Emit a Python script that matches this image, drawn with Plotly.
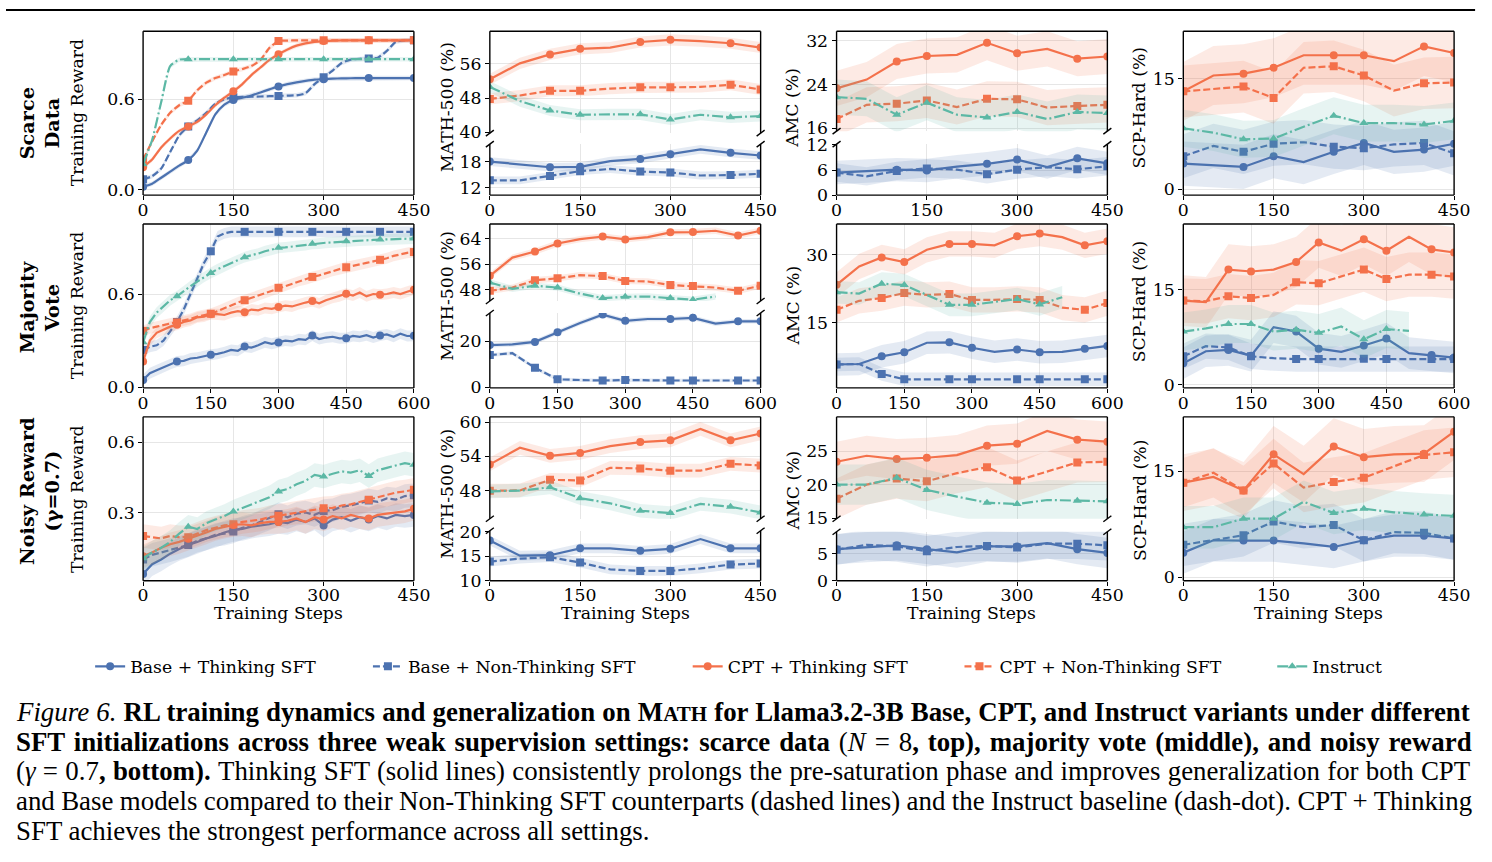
import plotly.graph_objects as go

# figure size and the measured mapping from the screenshot back to figure pixels
FW, FH = 1492, 862
OX, OY, SX, SY = 5.8, 8.7, 0.986, 0.979
FS = 1.016  # font compensation for the screenshot scale
FONT = "DejaVu Serif"
CAP_FONT = "Liberation Serif"


def PX(X):
    return ((X - OX) / SX) / FW


def PY(Y):
    return 1 - ((Y - OY) / SY) / FH


SERIES = ["Base + Thinking SFT", "Base + Non-Thinking SFT", "CPT + Thinking SFT",
          "CPT + Non-Thinking SFT", "Instruct"]
BLUE, ORANGE, TEAL = "#4c72b0", "#f4714b", "#5cb8a5"
COLORS = [BLUE, BLUE, ORANGE, ORANGE, TEAL]
FILLS = ["rgba(76,114,176,0.15)", "rgba(76,114,176,0.15)", "rgba(244,113,75,0.15)",
         "rgba(244,113,75,0.15)", "rgba(92,184,165,0.15)"]
DASHES = ["solid", "7px,3px", "solid", "7px,3px", "11px,3px,2px,3px"]
SYMBOLS = ["circle", "square", "circle", "square", "triangle-up"]

# ---------------- steps ----------------
TR_X_450 = list(range(0, 451, 15))
TR_X_600 = list(range(0, 601, 15))
EV_X_450 = [0, 50, 100, 150, 200, 250, 300, 350, 400, 450]
EV_X_600 = [0, 50, 100, 150, 200, 250, 300, 350, 400, 450, 500, 550, 600]
EV_MARKED = [0, 100, 150, 250, 300, 400, 450, 550, 600]
TR_MARKED = [0, 75, 150, 225, 300, 375, 450, 525, 600]

# ---------------- training reward: scarce data ----------------
r1_tr_bt = [0.02, 0.04, 0.08, 0.12, 0.16, 0.197, 0.26, 0.38, 0.50, 0.565,
            0.595, 0.61, 0.625, 0.645, 0.665, 0.685, 0.70, 0.712, 0.722, 0.73,
            0.733, 0.736, 0.738, 0.739, 0.74, 0.74, 0.74, 0.74, 0.74, 0.74, 0.74]
r1_tr_bnt = [0.07, 0.09, 0.14, 0.25, 0.36, 0.42, 0.46, 0.51, 0.57, 0.60,
             0.613, 0.615, 0.617, 0.618, 0.62, 0.622, 0.624, 0.626, 0.64, 0.70,
             0.745, 0.79, 0.84, 0.862, 0.868, 0.87, 0.875, 0.92, 0.98, 0.99, 0.99]
r1_tr_ct = [0.15, 0.2, 0.28, 0.34, 0.39, 0.42, 0.45, 0.50, 0.56, 0.61,
            0.652, 0.70, 0.76, 0.81, 0.86, 0.898, 0.93, 0.955, 0.97, 0.98,
            0.985, 0.988, 0.99, 0.99, 0.99, 0.99, 0.99, 0.99, 0.99, 0.99, 0.99]
r1_tr_cnt = [0.2, 0.32, 0.43, 0.51, 0.56, 0.59, 0.66, 0.71, 0.74, 0.76,
             0.784, 0.80, 0.82, 0.86, 0.94, 0.985, 0.988, 0.99, 0.99, 0.99,
             0.99, 0.99, 0.99, 0.99, 0.99, 0.99, 0.99, 0.99, 0.99, 0.99, 0.99]
r1_tr_in = [0.17, 0.33, 0.58, 0.82, 0.862, 0.865, 0.865, 0.865, 0.865, 0.865,
            0.865, 0.865, 0.865, 0.865, 0.865, 0.865, 0.865, 0.865, 0.865, 0.865,
            0.865, 0.865, 0.865, 0.865, 0.865, 0.865, 0.865, 0.865, 0.865, 0.865, 0.865]

# ---------------- training reward: majority vote ----------------
r2_tr_bt = [0.047, 0.09, 0.11, 0.13, 0.15, 0.166, 0.17, 0.185, 0.19, 0.2,
            0.209, 0.215, 0.225, 0.24, 0.235, 0.262, 0.255, 0.27, 0.29, 0.28,
            0.288, 0.3, 0.295, 0.31, 0.305, 0.333, 0.31, 0.32, 0.325, 0.315,
            0.316, 0.33, 0.325, 0.335, 0.32, 0.333, 0.34, 0.325, 0.345, 0.33, 0.331]
r2_tr_bnt = [0.24, 0.26, 0.27, 0.3, 0.36, 0.42, 0.5, 0.6, 0.7, 0.8,
             0.875, 0.97, 0.99, 1.0, 1.0, 1.0, 1.0, 1.0, 1.0, 1.0,
             1.0, 1.0, 1.0, 1.0, 1.0, 1.0, 1.0, 1.0, 1.0, 1.0,
             1.0, 1.0, 1.0, 1.0, 1.0, 1.0, 1.0, 1.0, 1.0, 1.0, 1.0]
r2_tr_ct = [0.166, 0.3, 0.35, 0.37, 0.39, 0.402, 0.42, 0.43, 0.45, 0.455,
            0.471, 0.47, 0.465, 0.48, 0.49, 0.482, 0.5, 0.495, 0.51, 0.505,
            0.516, 0.525, 0.52, 0.535, 0.545, 0.555, 0.54, 0.56, 0.575, 0.585,
            0.602, 0.59, 0.61, 0.585, 0.6, 0.596, 0.6, 0.61, 0.6, 0.615, 0.628]
r2_tr_cnt = [0.363, 0.38, 0.39, 0.4, 0.41, 0.417, 0.43, 0.44, 0.455, 0.465,
             0.473, 0.49, 0.51, 0.53, 0.545, 0.56, 0.575, 0.59, 0.605, 0.625,
             0.64, 0.655, 0.67, 0.685, 0.695, 0.71, 0.72, 0.735, 0.75, 0.76,
             0.772, 0.78, 0.79, 0.8, 0.81, 0.82, 0.83, 0.845, 0.855, 0.865, 0.87]
r2_tr_in = [0.29, 0.42, 0.48, 0.52, 0.56, 0.585, 0.62, 0.65, 0.68, 0.71,
            0.735, 0.76, 0.78, 0.8, 0.82, 0.837, 0.85, 0.86, 0.875, 0.885,
            0.897, 0.9, 0.905, 0.91, 0.915, 0.923, 0.925, 0.93, 0.932, 0.935,
            0.94, 0.942, 0.944, 0.946, 0.948, 0.95, 0.952, 0.953, 0.955, 0.956, 0.957]

# ---------------- training reward: noisy reward ----------------
r3_tr_bt = [0.038, 0.08, 0.1, 0.125, 0.145, 0.162, 0.175, 0.19, 0.2, 0.215,
            0.226, 0.23, 0.24, 0.245, 0.25, 0.26, 0.255, 0.27, 0.26, 0.275,
            0.245, 0.27, 0.28, 0.265, 0.28, 0.27, 0.285, 0.275, 0.29, 0.285, 0.29]
r3_tr_bnt = [0.1, 0.12, 0.13, 0.14, 0.15, 0.162, 0.18, 0.19, 0.205, 0.21,
             0.219, 0.235, 0.245, 0.26, 0.275, 0.293, 0.28, 0.295, 0.3, 0.29,
             0.307, 0.31, 0.325, 0.33, 0.34, 0.351, 0.345, 0.36, 0.355, 0.37, 0.373]
r3_tr_ct = [0.114, 0.13, 0.15, 0.165, 0.175, 0.188, 0.2, 0.215, 0.23, 0.24,
            0.247, 0.25, 0.245, 0.255, 0.26, 0.26, 0.265, 0.275, 0.26, 0.28,
            0.27, 0.285, 0.275, 0.29, 0.28, 0.275, 0.29, 0.295, 0.3, 0.305, 0.316]
r3_tr_cnt = [0.2, 0.195, 0.19, 0.2, 0.195, 0.195, 0.21, 0.225, 0.235, 0.245,
             0.25, 0.26, 0.265, 0.27, 0.28, 0.286, 0.295, 0.3, 0.305, 0.31,
             0.318, 0.32, 0.33, 0.335, 0.345, 0.354, 0.365, 0.375, 0.385, 0.39, 0.397]
r3_tr_in = [0.105, 0.13, 0.15, 0.175, 0.21, 0.24, 0.23, 0.255, 0.27, 0.285,
            0.304, 0.32, 0.335, 0.35, 0.365, 0.39, 0.4, 0.42, 0.435, 0.46,
            0.453, 0.465, 0.475, 0.47, 0.48, 0.455, 0.48, 0.49, 0.5, 0.51, 0.503]
TR_BAND = [0.015, 0.035, 0.05]

# ---------------- eval: scarce data ----------------
r1_math = [[18.0, 17.3, 16.7, 16.8, 18.1, 18.6, 19.7, 20.8, 20.0, 19.4],
           [13.7, 13.7, 14.7, 15.8, 16.3, 15.7, 15.5, 14.8, 14.9, 15.2],
           [52.4, 56.1, 58.2, 59.5, 59.8, 61.1, 61.6, 61.3, 60.8, 59.8],
           [47.8, 48.6, 49.7, 49.7, 50.2, 50.5, 50.5, 50.6, 51.1, 50.0],
           [50.6, 47.3, 45.1, 44.1, 44.2, 44.2, 43.0, 44.1, 43.5, 43.8]]
r1_amc = [[5.4, 5.7, 6.1, 5.9, 6.8, 7.5, 8.5, 6.7, 8.8, 7.6],
          [5.4, 4.5, 5.8, 6.4, 6.1, 5.0, 6.1, 6.7, 6.2, 6.9],
          [23.3, 24.9, 28.2, 29.2, 29.4, 31.6, 29.7, 30.5, 28.7, 29.1],
          [17.7, 20.3, 20.5, 21.1, 19.9, 21.4, 21.3, 19.8, 20.1, 20.3],
          [21.7, 21.4, 18.5, 20.7, 18.5, 18.0, 19.0, 17.7, 19.0, 18.8]]
r1_scp = [[3.5, 3.3, 3.05, 4.5, 3.7, 5.1, 6.3, 5.1, 5.4, 6.2],
          [4.5, 5.9, 5.1, 6.2, 6.4, 5.8, 5.6, 6.1, 6.3, 4.9],
          [13.3, 15.45, 15.7, 16.5, 18.2, 18.2, 18.2, 17.4, 19.4, 18.5],
          [13.3, 13.6, 13.95, 12.4, 16.5, 16.7, 15.45, 13.4, 14.4, 14.5],
          [8.3, 7.7, 6.8, 6.9, 8.5, 10.0, 9.0, 9.0, 8.8, 9.3]]

# ---------------- eval: majority vote ----------------
r2_math = [[18.3, 18.6, 19.7, 23.9, 27.9, 31.5, 28.8, 29.6, 29.6, 30.1, 27.6, 28.6, 28.6],
           [14.0, 14.8, 8.5, 3.5, 3.2, 3.0, 3.2, 3.0, 3.0, 3.0, 3.0, 3.0, 3.0],
           [52.4, 58.1, 60.0, 62.5, 63.9, 64.7, 63.8, 64.5, 66.0, 66.1, 66.5, 65.0, 66.5],
           [47.7, 48.7, 51.0, 51.6, 52.6, 52.3, 50.8, 50.6, 49.5, 49.2, 48.7, 47.7, 49.3],
           [50.3, 48.3, 49.3, 48.7, 46.8, 45.4, 45.8, 45.9, 45.4, 44.9, 45.9]]
r2_amc = [[5.7, 5.8, 7.5, 8.4, 10.5, 10.6, 9.4, 8.5, 9.0, 8.4, 8.5, 9.2, 9.8],
          [5.7, 5.8, 3.6, 2.4, 2.4, 2.4, 2.4, 2.4, 2.4, 2.4, 2.4, 2.4, 2.4],
          [23.35, 27.4, 29.4, 28.4, 31.1, 32.4, 32.4, 32.1, 34.1, 34.7, 33.9, 32.1, 33.0],
          [17.8, 19.8, 20.4, 21.5, 21.1, 21.3, 20.0, 20.0, 20.2, 20.0, 18.3, 17.8, 19.3],
          [21.7, 21.4, 23.6, 23.3, 21.1, 18.9, 18.9, 19.5, 20.2, 19.0, 20.6]]
r2_scp = [[3.4, 5.3, 5.5, 4.6, 9.1, 8.4, 5.7, 5.2, 6.2, 7.3, 5.0, 4.7, 4.3],
          [4.5, 6.1, 5.9, 4.5, 4.2, 4.05, 4.05, 4.05, 4.1, 4.05, 4.05, 4.05, 4.05],
          [13.3, 13.05, 18.2, 17.9, 18.2, 19.4, 22.5, 21.2, 23.0, 21.2, 23.4, 21.4, 20.9],
          [13.3, 13.2, 14.0, 13.7, 14.2, 16.2, 16.05, 17.1, 18.2, 16.7, 17.4, 17.4, 17.1],
          [8.4, 8.9, 9.6, 9.6, 8.4, 8.7, 8.2, 9.2, 7.2, 8.8, 8.5]]

# ---------------- eval: noisy reward ----------------
r3_math = [[18.2, 15.1, 15.2, 16.6, 16.6, 16.1, 16.5, 18.5, 16.6, 16.6],
           [13.9, 14.5, 14.8, 13.7, 12.3, 12.0, 12.0, 12.5, 13.3, 13.5],
           [52.6, 55.5, 54.1, 54.6, 55.8, 56.5, 56.8, 58.8, 56.8, 58.0],
           [48.0, 48.05, 49.9, 49.8, 52.0, 51.9, 51.5, 51.5, 52.7, 52.4],
           [47.9, 48.0, 48.6, 46.7, 45.8, 44.5, 44.1, 45.7, 45.2, 44.2]]
r3_amc = [[5.8, 6.2, 6.5, 5.8, 5.2, 6.3, 6.3, 6.9, 5.8, 5.1],
          [5.7, 6.6, 6.3, 5.4, 6.2, 6.4, 6.1, 6.8, 6.8, 6.5],
          [23.4, 24.3, 23.8, 24.0, 24.4, 25.8, 26.1, 28.0, 26.7, 26.4],
          [17.9, 20.0, 20.9, 20.5, 21.7, 22.6, 20.6, 22.0, 23.3, 23.4],
          [20.0, 20.0, 21.0, 19.2, 18.2, 17.3, 17.1, 17.7, 17.6, 17.5]]
r3_scp = [[3.5, 5.25, 5.2, 5.2, 4.8, 4.3, 5.25, 5.9, 5.9, 5.5],
          [4.6, 5.25, 5.95, 7.9, 7.1, 7.4, 5.25, 6.4, 6.3, 5.5],
          [13.4, 14.2, 12.3, 17.4, 14.6, 18.5, 17.0, 17.4, 17.5, 20.6],
          [13.4, 14.8, 12.3, 16.1, 12.7, 13.5, 14.1, 15.7, 17.3, 17.7],
          [7.1, 7.1, 8.3, 8.3, 10.7, 9.1, 9.7, 9.2, 8.9, 8.7]]

# band half-widths per panel: [base-T, base-NT, cpt-T, cpt-NT, instruct]
BAND_R1 = {"math": [1.0, 0.9, 1.3, 1.3, 1.3], "amc": [2.8, 2.2, 3.2, 3.2, 3.2], "scp": [3.0, 3.0, 4.0, 3.5, 2.5]}
BAND_R2 = {"math": [1.0, 0.8, 1.0, 1.0, 1.0], "amc": [2.5, 1.5, 2.8, 2.8, 2.5], "scp": [2.5, 2.0, 4.0, 3.5, 3.0]}
BAND_R3 = {"math": [1.0, 1.0, 1.2, 1.2, 1.2], "amc": [2.8, 2.8, 3.0, 3.0, 3.0], "scp": [3.0, 3.0, 4.0, 3.5, 3.0]}

# ---------------- layout geometry (picture pixels) ----------------
COLX = [(143, 414), (490, 761), (837, 1108), (1184, 1455)]
ROWS = [
    dict(top=31, bot=195, xmax=450, xt=[0, 150, 300, 450],
         tr=[r1_tr_bt, r1_tr_bnt, r1_tr_ct, r1_tr_cnt, r1_tr_in], trx=TR_X_450, band=TR_BAND[0], spline=True,
         tr_range=[-0.035, 1.05], tr_ticks=[0.0, 0.6],
         ev=[r1_math, r1_amc, r1_scp], evx=EV_X_450, bands=BAND_R1,
         math=dict(split=(133, 144), up=[39.8, 63.6], upt=[40, 48, 56], lo=[10.3, 22.0], lot=[12, 18]),
         amc=dict(split=(131, 144), up=[15.5, 33.7], upt=[16, 24, 32], lo=[0, 12.2], lot=[0, 6, 12]),
         scp=dict(rng=[-0.77, 21.45], t=[0, 15]),
         label="Scarce<br>Data", lab_y=123, ttl_y=[113, 107, 108, 107]),
    dict(top=224, bot=388, xmax=600, xt=[0, 150, 300, 450, 600],
         tr=[r2_tr_bt, r2_tr_bnt, r2_tr_ct, r2_tr_cnt, r2_tr_in], trx=TR_X_600, band=TR_BAND[1], spline=False,
         tr_range=[-0.004, 1.05], tr_ticks=[0.0, 0.6],
         ev=[r2_math, r2_amc, r2_scp], evx=EV_X_600, bands=BAND_R2,
         math=dict(split=(301, 313), up=[44.5, 68.6], upt=[48, 56, 64], lo=[-0.2, 32.2], lot=[0, 20]),
         amc=dict(rng=[0.5, 36.8], t=[15, 30]),
         scp=dict(rng=[-0.5, 25.4], t=[0, 15]),
         label="Majority<br>Vote", lab_y=307, ttl_y=[306, 296, 306, 301]),
    dict(top=417, bot=581, xmax=450, xt=[0, 150, 300, 450],
         tr=[r3_tr_bt, r3_tr_bnt, r3_tr_ct, r3_tr_cnt, r3_tr_in], trx=TR_X_450, band=TR_BAND[2], spline=False,
         tr_range=[0.01, 0.707], tr_ticks=[0.3, 0.6],
         ev=[r3_math, r3_amc, r3_scp], evx=EV_X_450, bands=BAND_R3,
         math=dict(split=(519, 531), up=[43.1, 60.9], upt=[48, 54, 60], lo=[10, 20.2], lot=[10, 15, 20]),
         amc=dict(split=(519, 532), up=[14.9, 30.1], upt=[15, 20, 25], lo=[0, 9.0], lot=[0, 5]),
         scp=dict(rng=[-0.47, 22.7], t=[0, 15]),
         label="Noisy Reward<br>(γ=0.7)", lab_y=491, ttl_y=[500, 494, 491, 500]),
]
YTITLES = ["Training Reward", "MATH-500 (%)", "AMC (%)", "SCP-Hard (%)"]
YTITLE_X = [77, 447, 793, 1140]

fig = go.Figure()
shapes, annotations, layout_axes = [], [], {}
TICKFONT = dict(family=FONT, size=17 * FS, color="black")
FRAME = dict(color="black", width=1.4)


def fmt(v):
    return f"{v:.1f}" if isinstance(v, float) else str(v)


def add_axes(idx, x0, x1, y0, y1, xmax, xt, yr, yt, xlabels, part):
    xs = "xaxis" if idx == 1 else f"xaxis{idx}"
    ys = "yaxis" if idx == 1 else f"yaxis{idx}"
    layout_axes[xs] = dict(domain=[PX(x0), PX(x1)], range=[0, xmax], anchor=f"y{idx}",
                           tickvals=xt, showticklabels=xlabels, ticks="outside" if xlabels else "",
                           ticklen=4, tickwidth=1.2, tickcolor="black", tickfont=TICKFONT,
                           ticklabelstandoff=-5,
                           showgrid=True, gridcolor="#e6e6e6", gridwidth=1, zeroline=False,
                           showline=False, fixedrange=True)
    layout_axes[ys] = dict(domain=[PY(y1), PY(y0)], range=yr, anchor=f"x{idx}",
                           tickvals=yt, ticktext=[fmt(v) for v in yt], ticks="outside",
                           ticklen=4, tickwidth=1.2, tickcolor="black", tickfont=TICKFONT,
                           showgrid=True, gridcolor="#e6e6e6", gridwidth=1, zeroline=False,
                           showline=False, fixedrange=True)

    def seg(ax0, ay0, ax1, ay1):
        shapes.append(dict(type="line", xref="paper", yref="paper", x0=PX(ax0), x1=PX(ax1),
                           y0=PY(ay0), y1=PY(ay1), line=FRAME))
    seg(x0, y0, x0, y1)
    seg(x1, y0, x1, y1)
    if part in ("full", "upper"):
        seg(x0, y0, x1, y0)
    if part in ("full", "lower"):
        seg(x0, y1, x1, y1)
    if part == "upper":
        for bx in (x0, x1):
            seg(bx - 4, y1 + 3, bx + 4, y1 - 3)
    if part == "lower":
        for bx in (x0, x1):
            seg(bx - 4, y0 + 3, bx + 4, y0 - 3)


def add_series(idx, xs, ys, k, band, marked, spline=False):
    xa, ya = f"x{idx}", f"y{idx}"
    n = len(ys)
    xs = xs[:n]
    lo = [v - band for v in ys]
    hi = [v + band for v in ys]
    fig.add_trace(go.Scatter(x=xs + xs[::-1], y=hi + lo[::-1], xaxis=xa, yaxis=ya, fill="toself",
                             fillcolor=FILLS[k], line=dict(width=0), mode="lines",
                             hoverinfo="skip", showlegend=False))
    fig.add_trace(go.Scatter(x=xs, y=ys, xaxis=xa, yaxis=ya, mode="lines",
                             line=dict(color=COLORS[k], width=2.2, dash=DASHES[k],
                                       shape="spline" if spline else "linear", smoothing=0.6),
                             showlegend=False, name=SERIES[k]))
    mx = [x for x in xs if x in marked]
    my = [y for x, y in zip(xs, ys) if x in marked]
    fig.add_trace(go.Scatter(x=mx, y=my, xaxis=xa, yaxis=ya, mode="markers",
                             marker=dict(color=COLORS[k], size=8, symbol=SYMBOLS[k]),
                             showlegend=False, name=SERIES[k]))


idx = 0
for r, row in enumerate(ROWS):
    top, bot = row["top"], row["bot"]
    idx += 1
    x0, x1 = COLX[0]
    add_axes(idx, x0, x1, top, bot, row["xmax"], row["xt"], row["tr_range"], row["tr_ticks"], True, "full")
    for k in range(5):
        add_series(idx, row["trx"], row["tr"][k], k, row["band"], TR_MARKED, spline=row["spline"])
    for c, key in enumerate(["math", "amc", "scp"], start=1):
        x0, x1 = COLX[c]
        spec = row[key]
        data = row["ev"][c - 1]
        bands = row["bands"][key]
        if "split" in spec:
            s0, s1 = spec["split"]
            idx += 1
            add_axes(idx, x0, x1, top, s0, row["xmax"], row["xt"], spec["up"], spec["upt"], False, "upper")
            for k in (2, 3, 4):
                add_series(idx, row["evx"], data[k], k, bands[k], EV_MARKED)
            idx += 1
            add_axes(idx, x0, x1, s1, bot, row["xmax"], row["xt"], spec["lo"], spec["lot"], True, "lower")
            for k in (0, 1):
                add_series(idx, row["evx"], data[k], k, bands[k], EV_MARKED)
        else:
            idx += 1
            add_axes(idx, x0, x1, top, bot, row["xmax"], row["xt"], spec["rng"], spec["t"], True, "full")
            for k in range(5):
                add_series(idx, row["evx"], data[k], k, bands[k], EV_MARKED)
    annotations.append(dict(text=f"<b>{row['label']}</b>", x=PX(40), y=PY(row["lab_y"]),
                            xref="paper", yref="paper", showarrow=False, textangle=-90,
                            font=dict(family=FONT, size=19 * FS, color="black"),
                            xanchor="center", yanchor="middle"))
    for c in range(4):
        annotations.append(dict(text=YTITLES[c], x=PX(YTITLE_X[c]), y=PY(row["ttl_y"][c]),
                                xref="paper", yref="paper", showarrow=False, textangle=-90,
                                font=dict(family=FONT, size=17 * FS, color="black"),
                                xanchor="center", yanchor="middle"))

for c in range(4):
    cx = (COLX[c][0] + COLX[c][1]) / 2
    annotations.append(dict(text="Training Steps", x=PX(cx), y=PY(613), xref="paper", yref="paper",
                            showarrow=False, font=dict(family=FONT, size=17 * FS, color="black"),
                            xanchor="center", yanchor="middle"))

# legend proxies, one legend each
LEG_TEXT_X = [130, 408, 728, 1000, 1313]
legends = {}
for k in range(5):
    lname = "legend" if k == 0 else f"legend{k + 1}"
    fig.add_trace(go.Scatter(x=[None], y=[None], xaxis="x1", yaxis="y1", mode="lines+markers",
                             name=SERIES[k], legend=lname,
                             line=dict(color=COLORS[k], width=2.2, dash=DASHES[k]),
                             marker=dict(color=COLORS[k], size=8, symbol=SYMBOLS[k])))
    legends[lname] = dict(x=PX(LEG_TEXT_X[k] - 40), y=PY(667), xanchor="left", yanchor="middle",
                          bgcolor="rgba(0,0,0,0)", font=dict(family=FONT, size=17 * FS, color="black"),
                          orientation="h", xref="paper", yref="paper")

# caption (word spacing approximates the justified lines)
CAPTION = [
    "<i>Figure 6.</i> <b>RL training dynamics and generalization on M<span style='font-size:21px'>ATH</span> "
    "for Llama3.2-3B Base, CPT, and Instruct variants under different</b>",
    "<b>SFT initializations across three weak supervision settings: scarce data</b> (<i>N</i> = 8"
    "<b>, top), majority vote (middle), and noisy reward</b>",
    "(<i>γ</i> = 0.7<b>, bottom).</b> Thinking SFT (solid lines) consistently prolongs the pre-saturation "
    "phase and improves generalization for both CPT",
    "and Base models compared to their Non-Thinking SFT counterparts (dashed lines) and the Instruct "
    "baseline (dash-dot). CPT + Thinking",
    "SFT achieves the strongest performance across all settings.",
]
CAP_WORD_SPACING = [0.4, 2.2, 0.6, -0.3, 0]
CAP_Y = [712, 742, 772, 802, 832]
for t, ws, yy in zip(CAPTION, CAP_WORD_SPACING, CAP_Y):
    txt = f"<span style='word-spacing:{ws}px'>{t}</span>" if ws else t
    annotations.append(dict(text=txt, x=PX(14), y=PY(yy), xref="paper", yref="paper", showarrow=False,
                            xanchor="left", yanchor="middle", align="left",
                            font=dict(family=CAP_FONT, size=26.45 * FS, color="black")))

# top rule (as high as the page allows)
shapes.append(dict(type="line", xref="paper", yref="paper", x0=0, x1=PX(1476), y0=1 - 1 / FH,
                   y1=1 - 1 / FH, line=dict(color="black", width=2)))

fig.update_layout(width=FW, height=FH, margin=dict(l=0, r=0, t=0, b=0), paper_bgcolor="white",
                  plot_bgcolor="white", shapes=shapes, annotations=annotations, **layout_axes, **legends)
fig.write_html("out.html")
